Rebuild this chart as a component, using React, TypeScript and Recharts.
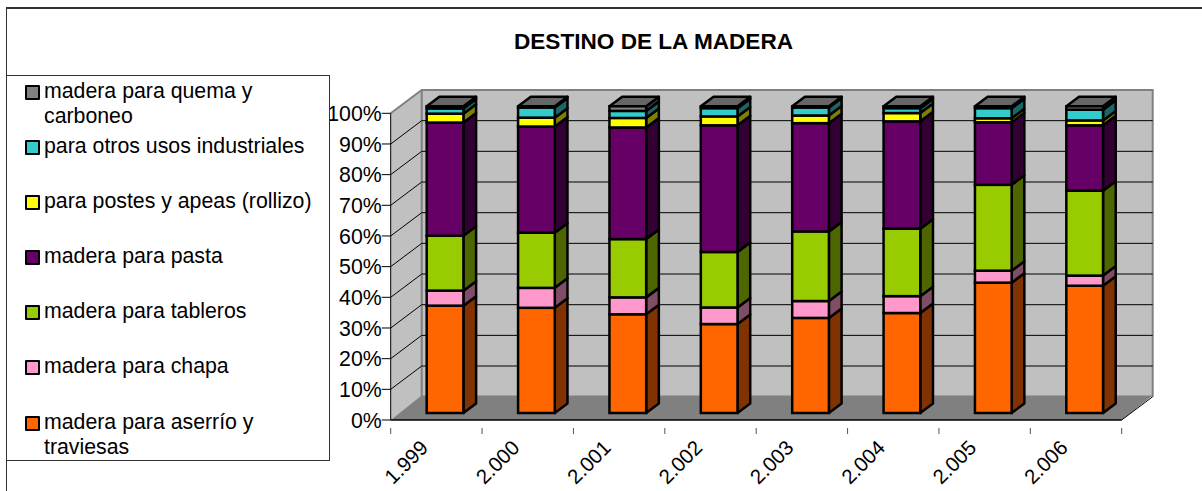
import { BarChart, Bar, XAxis, YAxis, CartesianGrid, Legend } from 'recharts';

const YEARS = ['1.999', '2.000', '2.001', '2.002', '2.003', '2.004', '2.005', '2.006'];
const ASERRIO = [35.0, 34.3, 32.2, 29.0, 31.0, 32.6, 42.5, 41.5];
const CHAPA = [4.9, 6.5, 5.5, 5.4, 5.5, 5.5, 3.9, 3.3];
const TABLEROS = [17.9, 18.0, 19.0, 18.1, 22.7, 22.0, 28.0, 27.7];
const PASTA = [36.9, 34.6, 36.4, 41.3, 35.3, 35.0, 20.4, 21.3];
const POSTES = [2.9, 2.9, 3.1, 2.9, 2.5, 2.7, 1.3, 1.6];
const OTROS = [1.7, 3.3, 2.3, 2.7, 2.6, 1.6, 3.3, 3.5];
const QUEMA = [0.7, 0.4, 1.5, 0.6, 0.4, 0.6, 0.6, 1.1];
const Y_TICKS = [0, 10, 20, 30, 40, 50, 60, 70, 80, 90, 100];

const data = YEARS.map((year, i) => ({
  year,
  aserrio: ASERRIO[i],
  chapa: CHAPA[i],
  tableros: TABLEROS[i],
  pasta: PASTA[i],
  postes: POSTES[i],
  otros: OTROS[i],
  quema: QUEMA[i],
}));

// bottom of the stack first; side is the shaded face of the 3D bar
const SERIES = [
  { key: 'aserrio', name: 'madera para aserrío y traviesas', fill: '#FF6600', side: '#803300' },
  { key: 'chapa', name: 'madera para chapa', fill: '#FF99CC', side: '#804D66' },
  { key: 'tableros', name: 'madera para tableros', fill: '#99CC00', side: '#4D6600' },
  { key: 'pasta', name: 'madera para pasta', fill: '#660066', side: '#330033' },
  { key: 'postes', name: 'para postes y apeas (rollizo)', fill: '#FFFF00', side: '#808000' },
  { key: 'otros', name: 'para otros usos industriales', fill: '#33CCCC', side: '#1A6666' },
  { key: 'quema', name: 'madera para quema y carboneo', fill: '#808080', side: '#404040' },
];

const FONT = '"Liberation Sans", Arial, sans-serif';
const TEXT_SIZE = 21.3;
const BAR_STROKE = 2.5;

// plot box of the front plane
const LEFT = 390.7;
const RIGHT = 1121.7;
const TOP = 113.3;
const BOTTOM = 420;
const DEPTH_X = 31;
const DEPTH_Y = 23.3;
const BAND = (RIGHT - LEFT) / YEARS.length;

// bars stand a little inside the floor, and have their own depth
const SHIFT_X = 9;
const SHIFT_Y = 7;
const BAR_DX = 12.7;
const BAR_DY = 9.5;

// walls, floor and title sit in their own svg behind the transparent chart
function Backdrop() {
  const backL = LEFT + DEPTH_X;
  const backR = RIGHT + DEPTH_X;
  const backT = TOP - DEPTH_Y;
  const backB = BOTTOM - DEPTH_Y;
  return (
    <svg width={1202} height={491} style={{ position: 'absolute', left: 0, top: 0 }}>
      <polygon points={`${LEFT},${BOTTOM} ${LEFT},${TOP} ${backL},${backT} ${backL},${backB}`} fill="#C0C0C0" />
      <rect x={backL} y={backT} width={backR - backL} height={backB - backT} fill="#C0C0C0" />
      <polyline
        points={`${LEFT},${TOP} ${backL},${backT} ${backR},${backT} ${backR},${backB}`}
        fill="none"
        stroke="#808080"
        strokeWidth={2}
      />
      <line x1={backL} y1={backT} x2={backL} y2={backB} stroke="#808080" strokeWidth={2} />
      <polygon
        points={`${LEFT},${BOTTOM} ${RIGHT},${BOTTOM} ${backR},${BOTTOM - 24.5} ${backL},${BOTTOM - 24.5}`}
        fill="#808080"
      />
      <line x1={RIGHT} y1={BOTTOM} x2={backR} y2={backB} stroke="#000" strokeWidth={1} />
      <text x={653.5} y={49} textAnchor="middle" fontFamily={FONT} fontWeight="bold" fontSize={22.6} fill="#000">
        DESTINO DE LA MADERA
      </text>
    </svg>
  );
}

function gridLine(props: any) {
  const { x1, x2, y1, key } = props;
  if (y1 < TOP + 1 || y1 > BOTTOM - 1) return <g key={key} />;
  return (
    <g key={key}>
      <line x1={x1} y1={y1} x2={x1 + DEPTH_X} y2={y1 - DEPTH_Y} stroke="#000" strokeWidth={1} />
      <line x1={x1 + DEPTH_X} y1={y1 - DEPTH_Y} x2={x2 + DEPTH_X} y2={y1 - DEPTH_Y} stroke="#000" strokeWidth={1} />
    </g>
  );
}

function prism(props: any, side: string, isTop: boolean) {
  const x = props.x + SHIFT_X;
  const y = props.y - SHIFT_Y;
  const w = props.width;
  const h = props.height;
  return (
    <g>
      <polygon
        points={`${x + w},${y} ${x + w + BAR_DX},${y - BAR_DY} ${x + w + BAR_DX},${y + h - BAR_DY} ${x + w},${y + h}`}
        fill={side}
        stroke="#000"
        strokeWidth={BAR_STROKE}
        strokeLinejoin="round"
      />
      {isTop && (
        <polygon
          points={`${x},${y} ${x + BAR_DX},${y - BAR_DY} ${x + w + BAR_DX},${y - BAR_DY} ${x + w},${y}`}
          fill="#666666"
          stroke="#000"
          strokeWidth={BAR_STROKE}
          strokeLinejoin="round"
        />
      )}
      <rect x={x} y={y} width={w} height={h} fill={props.fill} stroke="#000" strokeWidth={BAR_STROKE} />
    </g>
  );
}

function YearTick(props: any) {
  const { x, y, payload, index } = props;
  return (
    <g>
      <line x1={x - BAND / 2} y1={y} x2={x - BAND / 2} y2={y + 6} stroke="#555" />
      {index === YEARS.length - 1 && <line x1={x + BAND / 2} y1={y} x2={x + BAND / 2} y2={y + 6} stroke="#555" />}
      <text
        x={x - 7}
        y={y + 21}
        textAnchor="end"
        transform={`rotate(-45 ${x - 7} ${y + 21})`}
        fontFamily={FONT}
        fontSize={20.5}
        fill="#000"
      >
        {payload.value}
      </text>
    </g>
  );
}

// vertical position of each legend row, top to bottom
const LEGEND_ROWS = [3, 57.5, 112.5, 167.5, 222.5, 278, 334];

function LegendBox(props: any) {
  const items = [...(props.payload || [])].reverse();
  return (
    <div style={{ position: 'relative', width: 322, height: 384, background: '#fff', border: '1px solid #333', fontFamily: FONT, fontSize: TEXT_SIZE, lineHeight: '25px', color: '#000' }}>
      {items.map((item: any, i: number) => (
        <div key={item.value} style={{ position: 'absolute', left: 37, top: LEGEND_ROWS[i], width: 272 }}>
          <span style={{ position: 'absolute', left: -19, top: 6, width: 11, height: 11, background: item.color, border: '2px solid #000', borderRadius: 1 }} />
          {item.value}
        </div>
      ))}
    </div>
  );
}

export default function App() {
  return (
    <div style={{ position: 'absolute', left: 0, top: 0, width: 1202, height: 491, overflow: 'hidden', background: '#fff' }}>
      {/* chart frame: only top and left edges fall inside the picture */}
      <div style={{ position: 'absolute', left: 6, top: 7, width: 1196, height: 484, borderTop: '2px solid #333', borderLeft: '1px solid #333', boxSizing: 'border-box' }} />
      <Backdrop />
      <BarChart
        width={1202}
        height={491}
        data={data}
        margin={{ top: TOP, right: 1202 - RIGHT, bottom: 0, left: LEFT - 60 }}
        barSize={36.7}
        style={{ position: 'absolute', left: 0, top: 0 }}
      >
        <CartesianGrid vertical={false} horizontal={gridLine} />
        <XAxis dataKey="year" height={491 - BOTTOM} tickLine={false} interval={0} tick={YearTick} axisLine={{ stroke: '#000', strokeWidth: 1.5 }} />
        <YAxis
          width={60}
          domain={[0, 100]}
          ticks={Y_TICKS}
          interval={0}
          tickFormatter={(v: number) => `${v}%`}
          tickSize={9}
          tickMargin={0}
          tickLine={{ stroke: '#000' }}
          axisLine={{ stroke: '#000' }}
          tick={{ fill: '#000', fontSize: TEXT_SIZE, fontFamily: FONT }}
        />
        {SERIES.map((s, i) => (
          <Bar
            key={s.key}
            dataKey={s.key}
            name={s.name}
            stackId="a"
            fill={s.fill}
            isAnimationActive={false}
            shape={(p: any) => prism(p, s.side, i === SERIES.length - 1)}
          />
        ))}
        <Legend
          layout="vertical"
          align="center"
          verticalAlign="middle"
          itemSorter={null}
          content={LegendBox}
          wrapperStyle={{ position: 'absolute', left: 6, top: 75, width: 324, height: 386, margin: 0 }}
        />
      </BarChart>
    </div>
  );
}
